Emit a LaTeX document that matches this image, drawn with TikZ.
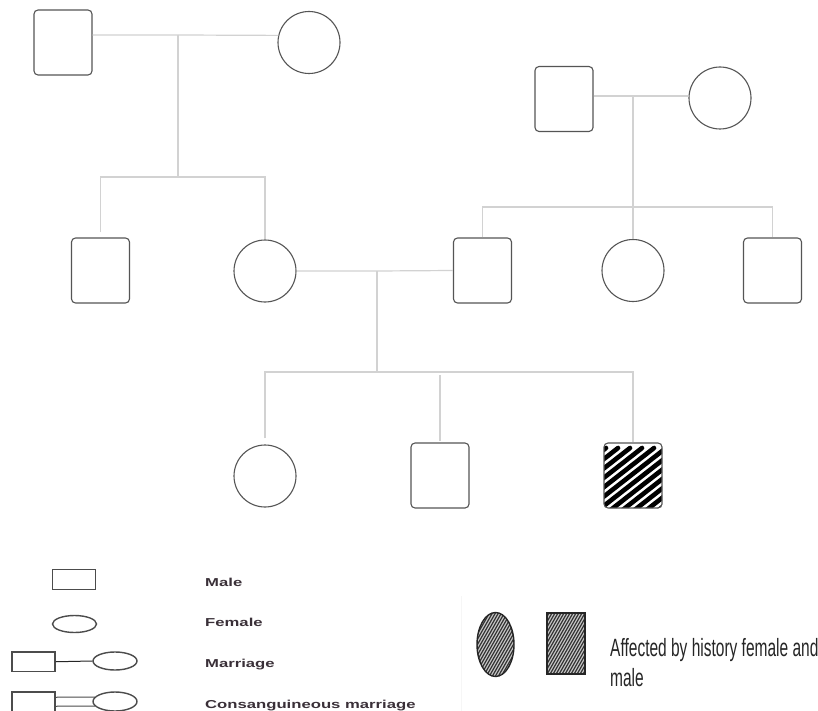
\documentclass[tikz,border=0pt]{standalone}
\usepackage{fontspec}
\setmainfont{Liberation Sans}
\newfontfamily\legfont[FakeStretch=1.45]{Liberation Sans}
\newfontfamily\narrowfont[FakeStretch=0.62]{Liberation Sans}
\usetikzlibrary{shapes.geometric}
\definecolor{edgecol}{HTML}{555555}
\definecolor{conncol}{HTML}{D2D2D2}
\definecolor{legtext}{HTML}{3A3038}
\begin{document}
\begin{tikzpicture}[x=1pt,y=-1pt,
  male/.style={draw=edgecol, line width=1.1pt, rounded corners=4pt, minimum width=58pt, minimum height=65pt, inner sep=0pt, fill=white},
  female/.style={draw=edgecol, line width=1.1pt, circle, minimum size=62pt, inner sep=0pt, fill=white},
  conn/.style={draw=conncol, line width=1.2pt},
  lshape/.style={draw=black!70, line width=1.4pt, inner sep=0pt},
  lrect/.style={lshape, rectangle, minimum width=43pt, minimum height=19.5pt},
  lell/.style={lshape, ellipse, minimum width=44pt, minimum height=17pt},
  ltext/.style={anchor=base west, inner sep=0pt, text=legtext, font=\legfont\bfseries\fontsize{11.5}{13}\selectfont},
  heavyhatch/.style={path picture={
     \foreach \t in {-80,-68,...,70}
       \draw[black, line width=4.6pt, line cap=round]
         ([xshift=\t pt, yshift=-4pt]path picture bounding box.south west) -- ++(82,-64);}},
  finehatch/.style={fill=gray!45, path picture={
     \foreach \t in {-70,-67,...,50}
       \draw[black!80, line width=1.2pt]
         ([xshift=\t pt, yshift=-2pt]path picture bounding box.south west) -- ++(40,-70);}}
]
\useasboundingbox (0,0) rectangle (818,711);
\fill[white] (0,0) rectangle (818,711);

% generation I
\node[male]   (A) at (63,42.5) {};
\node[female] (B) at (309,42.5) {};
\node[male]   (E) at (564,99) {};
\node[female] (F) at (720,98) {};
% generation II
\node[male]   (C) at (100.5,270.5) {};
\node[female] (D) at (265,271) {};
\node[male]   (G) at (482.5,270.5) {};
\node[female] (H) at (633,270.5) {};
\node[male]   (I) at (772.5,270.5) {};
% generation III
\node[female] (J) at (265,476) {};
\node[male]   (K) at (440,475.5) {};
\node[male, heavyhatch] (L) at (633,475.5) {};

% connectors
\coordinate (m1) at (178,35);
\coordinate (s1) at (178,177);
\draw[conn] (A.east |- m1) -- (m1) -- (B.167);
\draw[conn] (m1) -- (s1);
\draw[conn] ([yshift=5pt]C.north) |- (s1) -| (D.north);

\coordinate (m2) at (633,96);
\coordinate (s2) at (633,207);
\draw[conn] (E.east |- m2) -- (m2) -- (F.west |- m2);
\draw[conn] (m2) -- (s2);
\draw[conn] (G.north) |- (s2) -| (I.north);
\draw[conn] (s2) -- (H.north);

\coordinate (m3) at (377,271);
\coordinate (s3) at (377,372);
\coordinate (s3k) at (440,375);
\draw[conn] (D.east) -- (m3) -- (G.west);
\draw[conn] (m3) -- (s3);
\draw[conn] ([yshift=6pt]J.north) |- (s3) -| (L.north);
\draw[conn] (s3k) -- ([yshift=1pt]K.north);

% legend, left
\node[lrect] (lm) at (74,579.5) {};
\node[lell]  (lf) at (74.5,624) {};
\node[lrect] (lr3) at (33.5,661.75) {};
\node[lell, minimum height=18pt]  (le3) at (115,661) {};
\draw[black!85, line width=1pt] (lr3.east) -- (le3.west);
\node[lrect] (lr4) at (33.5,701.75) {};
\node[lell, minimum height=19pt]  (le4) at (115,701.5) {};
\draw[black!70, line width=1pt] ([yshift=4.5pt]lr4.east) -- ([yshift=4.5pt,xshift=2.5pt]le4.west);
\draw[black!70, line width=1pt] ([yshift=-4.5pt]lr4.east) -- ([yshift=-4.5pt,xshift=2.5pt]le4.west);

\node[ltext] (t1) at (205,586.7) {Male};
\node[ltext] (t2) at (205,626.7) {Female};
\node[ltext] (t3) at (205,667) {Marriage};
\node[ltext] (t4) at (205,708) {Consanguineous marriage};

% faint divider
\coordinate (d1) at (461,596);
\coordinate (d2) at (461,711);
\draw[gray!7, line width=0.8pt] (d1) -- (d2);

% legend, right
\node[lshape, ellipse, finehatch, draw=black!85, minimum width=37pt, minimum height=64pt] (af) at (495.5,644.5) {};
\node[lshape, rectangle, finehatch, draw=black!85, minimum width=38pt, minimum height=61pt] (am) at (566,643.5) {};
\node[anchor=base west, inner sep=0pt, align=left, text=black!85,
      font=\narrowfont\fontsize{25}{30}\selectfont] (at) at (610,686.5)
      {Affected by history female and\\male};
\end{tikzpicture}
\end{document}
